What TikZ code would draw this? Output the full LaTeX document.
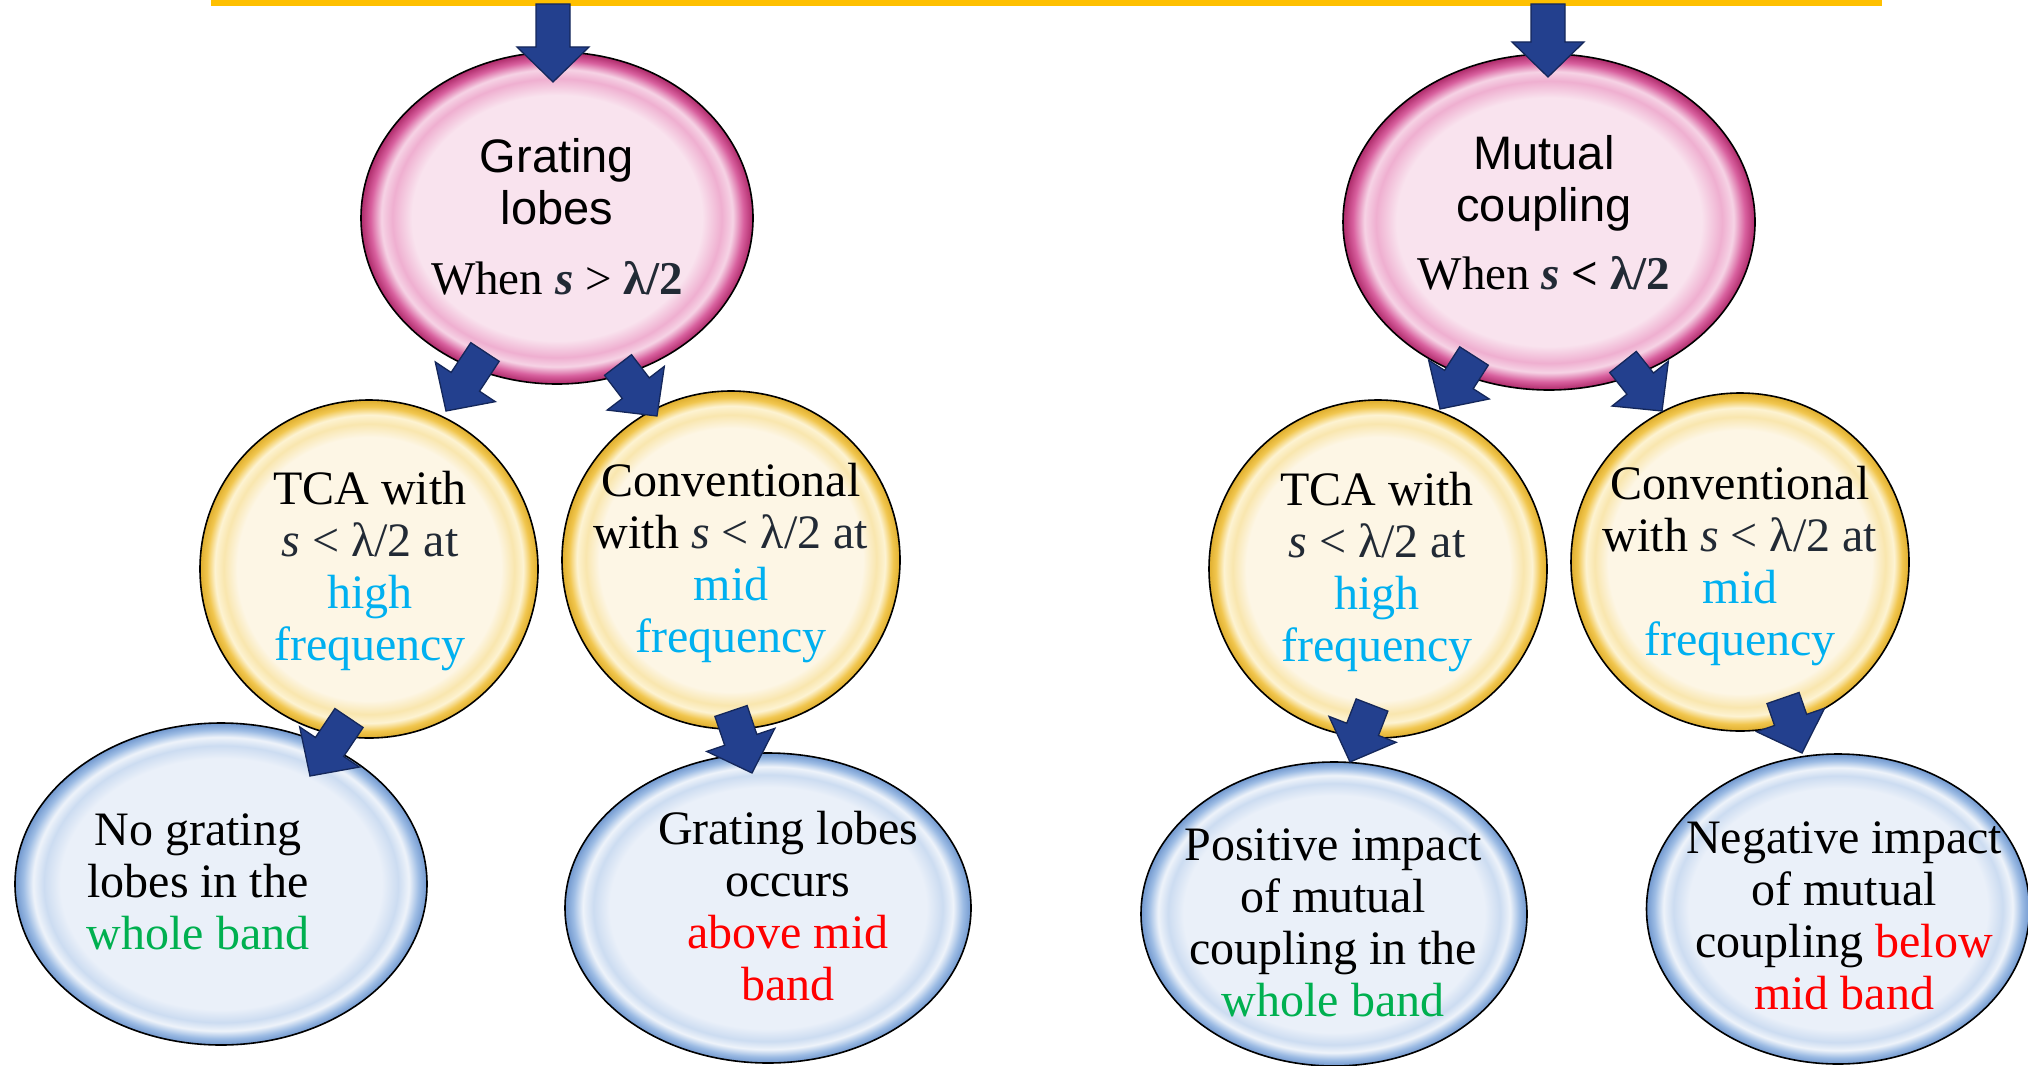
\documentclass[tikz,border=0pt]{standalone}
\usepackage{fontspec}
\setmainfont{Liberation Serif}
\newfontfamily\sansf{Liberation Sans}
\usetikzlibrary{shapes.geometric,calc}

% palette
\definecolor{barY}{HTML}{FFC000}
\definecolor{arrowF}{HTML}{23408E}
\definecolor{arrowE}{HTML}{14275A}
\definecolor{cyanT}{HTML}{00B0F0}
\definecolor{greenT}{HTML}{00B050}
\definecolor{redT}{HTML}{FF0000}
\definecolor{slateT}{HTML}{222A35}
\definecolor{pinkIn}{HTML}{F9E3EE}
\definecolor{pinkMid}{HTML}{EFAFD0}
\definecolor{pinkHi}{HTML}{F6D3E5}
\definecolor{pinkRim}{HTML}{D8609E}
\definecolor{pinkEdge}{HTML}{AE2A6A}
\definecolor{yelIn}{HTML}{FDF6E5}
\definecolor{yelMid}{HTML}{F9E6AE}
\definecolor{yelHi}{HTML}{FDF3D2}
\definecolor{yelRim}{HTML}{F1C64E}
\definecolor{yelEdge}{HTML}{DFAE2E}
\definecolor{bluIn}{HTML}{EAF0F9}
\definecolor{bluMid}{HTML}{CCDCF1}
\definecolor{bluHi}{HTML}{EEF3FA}
\definecolor{bluRim}{HTML}{9DBCE4}
\definecolor{bluEdge}{HTML}{7198CF}

% glossy bubble fills: light body, bright ring, darker rim
\pgfdeclareradialshading{pinkbubble}{\pgfpoint{0bp}{0bp}}{%
  color(0bp)=(pinkIn); color(18.5bp)=(pinkIn); color(21bp)=(pinkMid);
  color(22.4bp)=(pinkHi); color(23.8bp)=(pinkRim); color(25bp)=(pinkEdge);
  color(50bp)=(pinkEdge)}
\pgfdeclareradialshading{yellowbubble}{\pgfpoint{0bp}{0bp}}{%
  color(0bp)=(yelIn); color(19.5bp)=(yelIn); color(21.5bp)=(yelMid);
  color(22.8bp)=(yelHi); color(24bp)=(yelRim); color(25bp)=(yelEdge);
  color(50bp)=(yelEdge)}
\pgfdeclareradialshading{bluebubble}{\pgfpoint{0bp}{0bp}}{%
  color(0bp)=(bluIn); color(19.5bp)=(bluIn); color(21.5bp)=(bluMid);
  color(22.8bp)=(bluHi); color(24bp)=(bluRim); color(25bp)=(bluEdge);
  color(50bp)=(bluEdge)}

% block arrow from #1 (tail) to #2 (tip)
\newcommand\blockarrow[2]{%
  \path[arrowbody] let \p1=(#1), \p2=(#2), \n1={atan2(\y2-\y1,\x2-\x1)} in
    ($(\p1)+({\n1+90}:17pt)$)
    -- ($(\p2)+({\n1+180}:35pt)+({\n1+90}:17pt)$)
    -- ($(\p2)+({\n1+180}:35pt)+({\n1+90}:36pt)$)
    -- (\p2)
    -- ($(\p2)+({\n1+180}:35pt)+({\n1-90}:36pt)$)
    -- ($(\p2)+({\n1+180}:35pt)+({\n1-90}:17pt)$)
    -- ($(\p1)+({\n1-90}:17pt)$) -- cycle;}

\begin{document}
\begin{tikzpicture}[x=1pt, y=-1pt,
  bubble/.style={ellipse, draw=black, line width=1.6pt, inner sep=0pt, outer sep=0pt, shade},
  pinkB/.style={bubble, shading=pinkbubble},
  yelB/.style={bubble, shading=yellowbubble, minimum width=338pt, minimum height=338pt},
  bluB/.style={bubble, shading=bluebubble},
  arrowbody/.style={fill=arrowF, draw=arrowE, line width=1.3pt, line join=miter},
  txt/.style={align=center, inner sep=0pt, font=\fontsize{48}{52}\selectfont},
  ptxt/.style={align=center, inner sep=0pt, font=\fontsize{47}{52}\selectfont}]
\useasboundingbox (0,0) rectangle (2028,1065);

% top bar
\node[fill=barY, minimum width=1671pt, minimum height=6pt, inner sep=0pt, outer sep=0pt] (bar) at (1046.5,3) {};

% bubbles
\node[pinkB, minimum width=392pt, minimum height=332pt] (pinkL) at (557,218) {};
\node[pinkB, minimum width=412pt, minimum height=336pt] (pinkR) at (1549,222) {};
\node[yelB] (Y1) at (369,569) {};
\node[yelB] (Y2) at (731,560) {};
\node[yelB] (Y3) at (1378,569) {};
\node[yelB] (Y4) at (1740,562) {};
\node[bluB, minimum width=412pt, minimum height=322pt] (B1) at (221,884) {};
\node[bluB, minimum width=406pt, minimum height=310pt] (B2) at (768,908) {};
\node[bluB, minimum width=386pt, minimum height=304pt] (B3) at (1334,914) {};
\node[bluB, minimum width=383pt, minimum height=310pt] (B4) at (1838,909) {};

% arrows
\blockarrow{$(bar.south -| pinkL)+(-4,-2)$}{$(pinkL)+(-4,-136)$}
\blockarrow{$(bar.south -| pinkR)+(-1,-2)$}{$(pinkR)+(-1,-145)$}
\blockarrow{$(pinkL)+(-72,134)$}{$(Y1)+(77,-158)$}
\blockarrow{$(pinkL)+(61,147)$}{$(Y2)+(-74,-144)$}
\blockarrow{$(Y1)+(-20,149)$}{$(B1)+(89,-108)$}
\blockarrow{$(Y2)+(0,151)$}{$(B2)+(-16,-135)$}
\blockarrow{$(pinkR)+(-75,134)$}{$(Y3)+(62,-160)$}
\blockarrow{$(pinkR)+(74,140)$}{$(Y4)+(-78,-151)$}
\blockarrow{$(Y3)+(-6,136)$}{$(B3)+(16,-152)$}
\blockarrow{$(Y4)+(43,136)$}{$(B4)+(-36,-156)$}

% texts
\node[ptxt] (pinkLt) at (557,216.5) {{\sansf Grating}\\{\sansf lobes}\\[18pt]When \textcolor{slateT}{\textbf{\textit{s}}} > \textcolor{slateT}{\textbf{λ/2}}};
\node[ptxt] (pinkRt) at (1544,213) {{\sansf Mutual}\\{\sansf coupling}\\[16pt]When \textcolor{slateT}{\textbf{\textit{s}}} \textbf{<} \textcolor{slateT}{\textbf{λ/2}}};

\node[txt] (Y1t) at (370,571) {TCA with\\\textcolor{slateT}{\textit{s} < λ/2 at}\\\textcolor{cyanT}{high}\\\textcolor{cyanT}{frequency}};
\node[txt] (Y2t) at (731,563.5) {Conventional\\with \textcolor{slateT}{\textit{s} < λ/2 at}\\\textcolor{cyanT}{mid}\\\textcolor{cyanT}{frequency}};
\node[txt] (Y3t) at (1377,572) {TCA with\\\textcolor{slateT}{\textit{s} < λ/2 at}\\\textcolor{cyanT}{high}\\\textcolor{cyanT}{frequency}};
\node[txt] (Y4t) at (1740,566) {Conventional\\with \textcolor{slateT}{\textit{s} < λ/2 at}\\\textcolor{cyanT}{mid}\\\textcolor{cyanT}{frequency}};

\node[txt] (B1t) at (198,882) {No grating\\lobes in the\\\textcolor{greenT}{whole band}};
\node[txt] (B2t) at (788,906.5) {Grating lobes\\occurs\\\textcolor{redT}{above mid}\\\textcolor{redT}{band}};
\node[txt] (B3t) at (1333,922.5) {Positive impact\\of mutual\\coupling in the\\\textcolor{greenT}{whole band}};
\node[txt] (B4t) at (1844,915.5) {Negative impact\\of mutual\\coupling \textcolor{redT}{below}\\\textcolor{redT}{mid band}};
\end{tikzpicture}
\end{document}
